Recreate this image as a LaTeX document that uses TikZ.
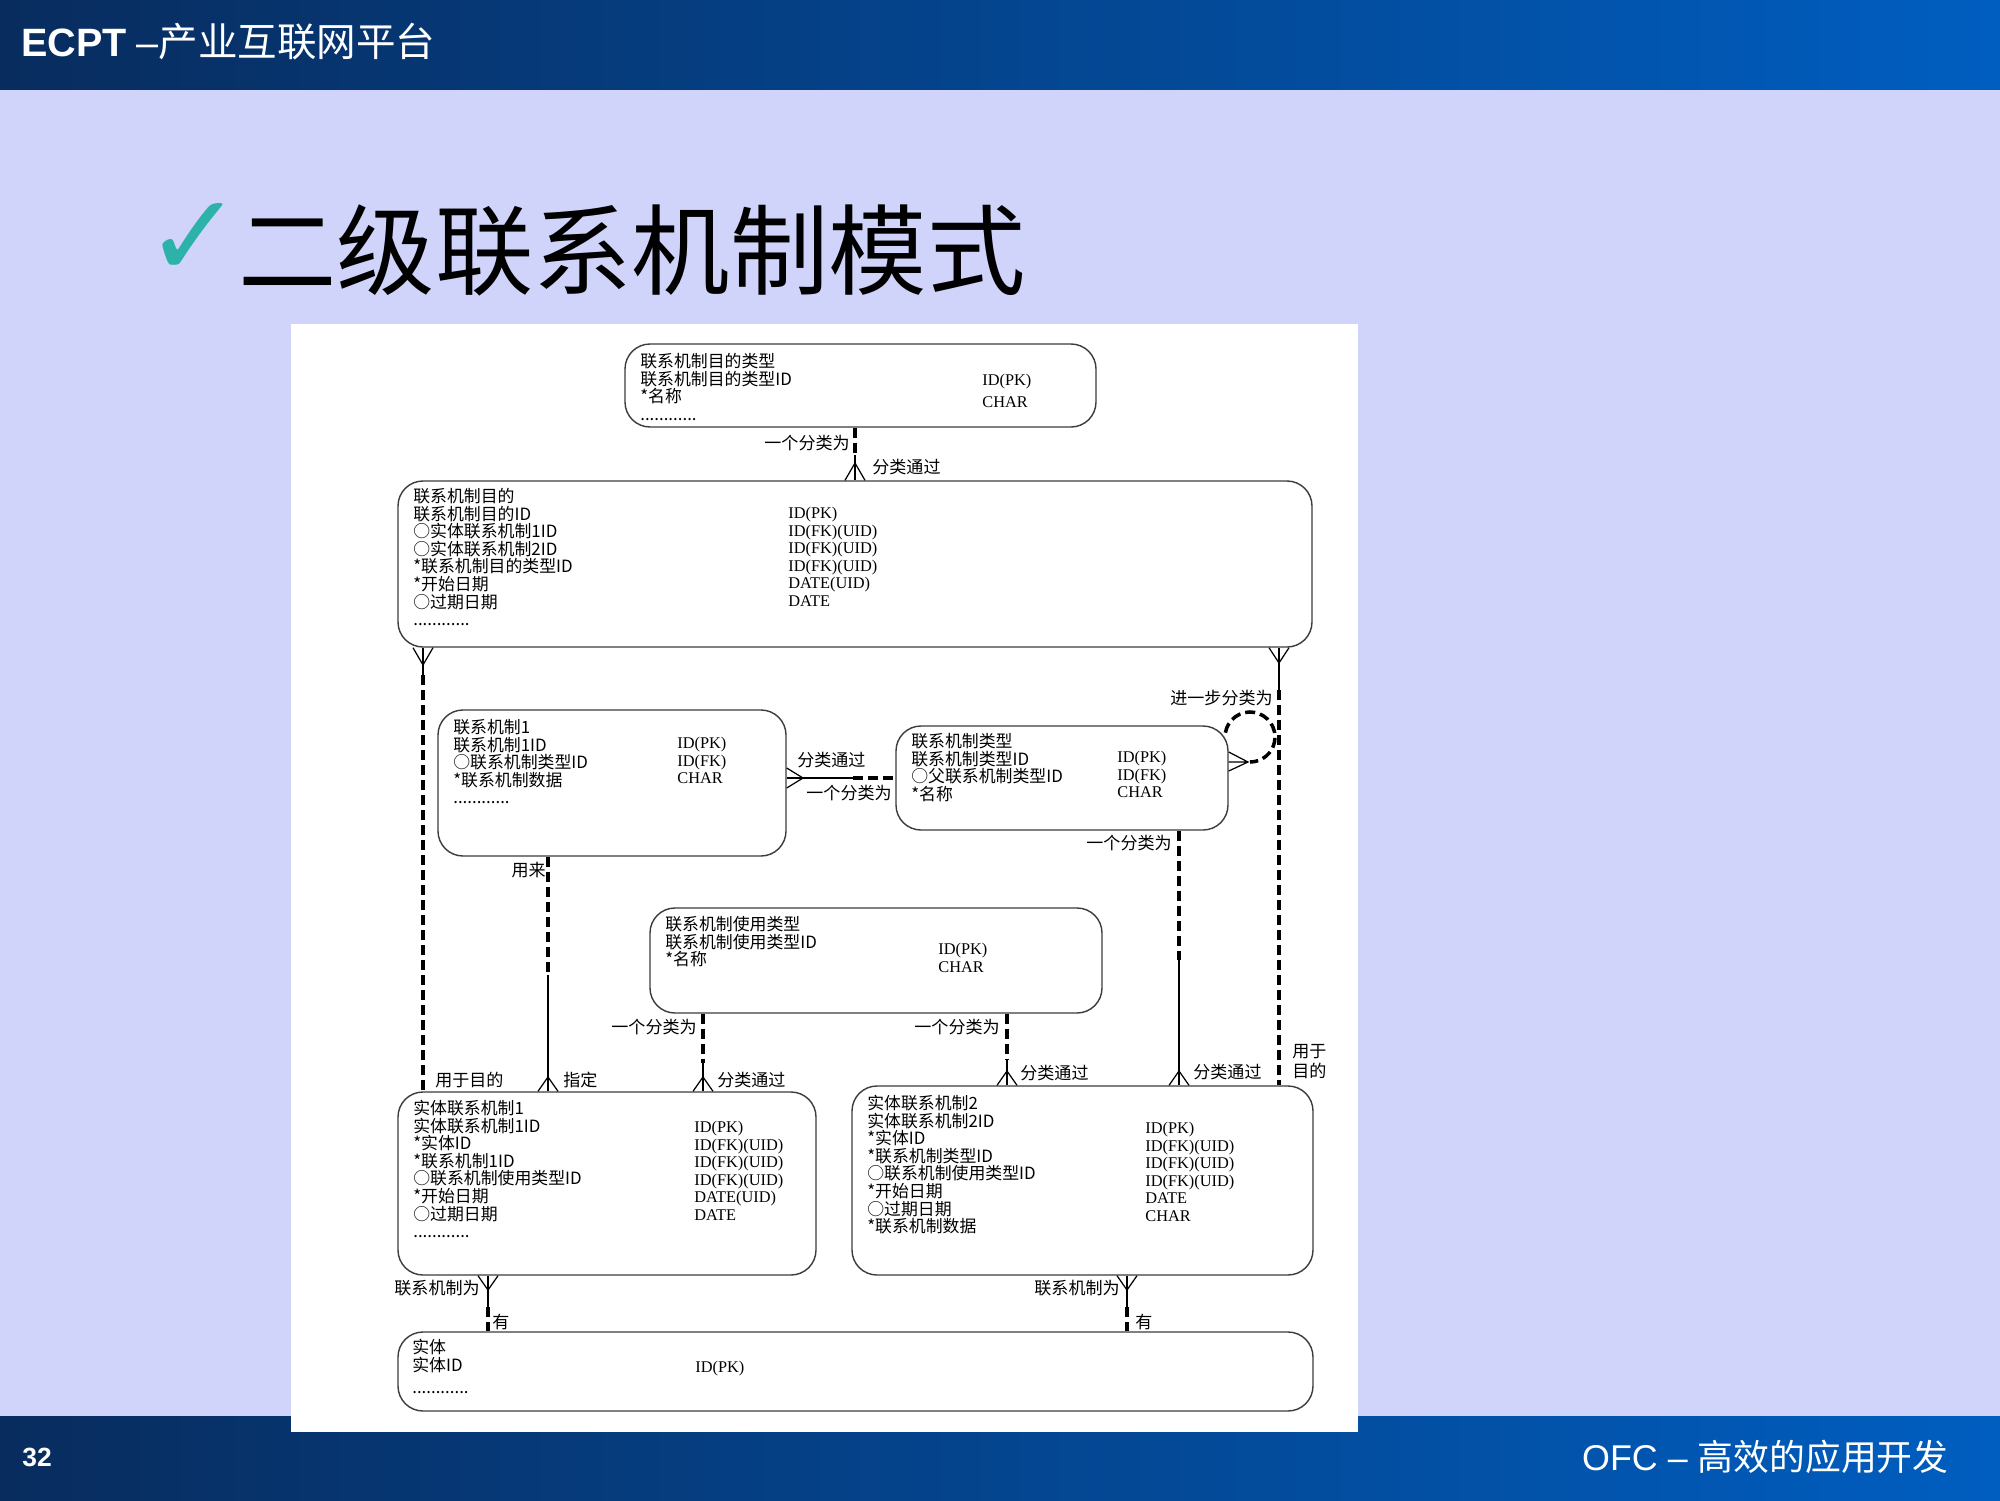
\documentclass[tikz,border=0pt]{standalone}
\usepackage{fontspec}
\setmainfont{Liberation Serif}
\newfontfamily\cjk{Noto Sans CJK SC}
\newfontfamily\arial{Liberation Sans}
\newfontfamily\symf{DejaVu Sans}
\usetikzlibrary{fit}

\definecolor{slidebg}{RGB}{208,212,250}
\definecolor{barL}{RGB}{8,44,94}
\definecolor{barR}{RGB}{0,94,192}
\definecolor{tick}{RGB}{44,178,168}
\definecolor{boxline}{RGB}{60,60,60}

\tikzset{
  erbox/.style={draw=boxline, fill=white, rounded corners=5mm, line width=0.8pt, inner sep=0pt},
  must/.style={line width=0.7pt},
  opt/.style={line width=2pt, dash pattern=on 2mm off 1mm},
  lcol/.style={inner sep=0pt, anchor=north west, align=left, font=\fontsize{9.6}{10}\selectfont\cjk},
  rcol/.style={inner sep=0pt, anchor=north west, align=left, font=\fontsize{9.3}{10}\selectfont},
  lbl/.style={inner sep=0pt, font=\fontsize{9.7}{10}\selectfont\cjk},
}

\begin{document}
\begin{tikzpicture}[x=0.2mm, y=-0.2mm]
\useasboundingbox (0,0) rectangle (2000,1500);
% slide
\fill[slidebg] (0,0) rectangle (2000,1500);
\shade[left color=barL, right color=barR] (0,0) rectangle (2000,89);
\shade[left color=barL, right color=barR] (0,1416) rectangle (2000,1500);
\fill[white] (291,324) rectangle (1358,1432);
\node[anchor=west, inner sep=0pt, text=white, font=\fontsize{22.5}{22.5}\selectfont] (hdr) at (21,42)
  {{\arial\bfseries ECPT} {\arial –}\cjk 产业互联网平台};
\node[inner sep=0pt, text=tick, font=\fontsize{66}{66}\selectfont\symf] (tk) at (194,240) {✓};
\node[anchor=west, inner sep=0pt, font=\fontsize{56}{56}\selectfont\cjk] (ttl) at (238,250) {二级联系机制模式};
\node[anchor=west, inner sep=0pt, text=white, font=\fontsize{15}{15}\selectfont\arial\bfseries] (pg) at (22,1457) {32};
\node[anchor=east, inner sep=0pt, text=white, font=\fontsize{20.4}{20.4}\selectfont] (ftr) at (1949,1457)
  {{\arial OFC – }\cjk 高效的应用开发};

% entities
\node[erbox, fit={(625,344) (1096,427)}] (mdtype) {};
\node[erbox, fit={(398,481) (1312,647)}] (md) {};
\node[erbox, fit={(438,710) (786,856)}] (m1) {};
\node[erbox, fit={(896,726) (1228,830)}] (mt) {};
\node[erbox, fit={(650,908) (1102,1013)}] (mu) {};
\node[erbox, fit={(398,1092) (816,1275)}] (e1) {};
\node[erbox, fit={(852,1086) (1313,1275)}] (e2) {};
\node[erbox, fit={(398,1332) (1313,1411)}] (ent) {};

\node[lcol] at (640,353) {联系机制目的类型\\联系机制目的类型ID\\*名称\\............};
\node[rcol, font=\fontsize{9.3}{12.5}\selectfont] at (982,374) {ID(PK)\\CHAR};
\node[lcol] at (413,488) {联系机制目的\\联系机制目的ID\\○实体联系机制1ID\\○实体联系机制2ID\\*联系机制目的类型ID\\*开始日期\\○过期日期\\............};
\node[rcol] at (788,507) {ID(PK)\\ID(FK)(UID)\\ID(FK)(UID)\\ID(FK)(UID)\\DATE(UID)\\DATE};
\node[lcol] at (453,719) {联系机制1\\联系机制1ID\\○联系机制类型ID\\*联系机制数据\\............};
\node[rcol] at (677,737) {ID(PK)\\ID(FK)\\CHAR};
\node[lcol] at (911,733) {联系机制类型\\联系机制类型ID\\○父联系机制类型ID\\*名称};
\node[rcol] at (1117,751) {ID(PK)\\ID(FK)\\CHAR};
\node[lcol] at (665,916) {联系机制使用类型\\联系机制使用类型ID\\*名称};
\node[rcol] at (938,943) {ID(PK)\\CHAR};
\node[lcol] at (413,1100) {实体联系机制1\\实体联系机制1ID\\*实体ID\\*联系机制1ID\\○联系机制使用类型ID\\*开始日期\\○过期日期\\............};
\node[rcol] at (694,1121) {ID(PK)\\ID(FK)(UID)\\ID(FK)(UID)\\ID(FK)(UID)\\DATE(UID)\\DATE};
\node[lcol] at (867,1095) {实体联系机制2\\实体联系机制2ID\\*实体ID\\*联系机制类型ID\\○联系机制使用类型ID\\*开始日期\\○过期日期\\*联系机制数据};
\node[rcol] at (1145,1122) {ID(PK)\\ID(FK)(UID)\\ID(FK)(UID)\\ID(FK)(UID)\\DATE\\CHAR};
\node[lcol] at (412,1339) {实体\\实体ID\\[1mm]............};
\node[rcol] at (695,1361) {ID(PK)};

% relationships
\draw[opt] (855,0 |- mdtype.south) -- (855,455);
\draw[must] (855,455) -- (855,0 |- md.north);
\draw[must] (423,0 |- md.south) -- (423,675);
\draw[opt] (423,675) -- (423,0 |- e1.north);
\draw[must] (1279,0 |- md.south) -- (1279,690);
\draw[opt] (1279,690) -- (1279,0 |- e2.north);
\draw[must] (m1.east |- 0,778) -- (853,778);
\draw[opt] (853,778) -- (mt.west |- 0,778);
\draw[opt] (548,0 |- m1.south) -- (548,975);
\draw[must] (548,975) -- (548,0 |- e1.north);
\draw[opt] (703,0 |- mu.south) -- (703,1063);
\draw[must] (703,1063) -- (703,0 |- e1.north);
\draw[opt] (1007,0 |- mu.south) -- (1007,1060);
\draw[must] (1007,1060) -- (1007,0 |- e2.north);
\draw[opt] (1179,0 |- mt.south) -- (1179,960);
\draw[must] (1179,960) -- (1179,0 |- e2.north);
\draw[must] (488,0 |- e1.south) -- (488,1307);
\draw[opt] (488,1307) -- (488,0 |- ent.north);
\draw[must] (1127,0 |- e2.south) -- (1127,1307);
\draw[opt] (1127,1307) -- (1127,0 |- ent.north);
% pig's ear on 联系机制类型
\draw[opt] (1250,737) ++(190:25) arc[start angle=190, end angle=450, radius=25];

% crow's feet
\foreach \x/\y/\n in {855/463/md, 548/1077/e1, 703/1077/e1, 1007/1071/e2, 1179/1071/e2}
  \draw[must] ({\x-10},0 |- \n.north) -- (\x,\y) -- ({\x+10},0 |- \n.north);
\foreach \x/\y/\n in {423/665/md, 1279/663/md, 488/1290/e1, 1127/1290/e2}
  \draw[must] ({\x-10},0 |- \n.south) -- (\x,\y) -- ({\x+10},0 |- \n.south);
\draw[must] (m1.east |- 0,768) -- (803,778) -- (m1.east |- 0,788);
\draw[must] (mt.east |- 0,752) -- (1248,762) -- (mt.east |- 0,771)
  (mt.east |- 0,762) -- (1248,762);

% labels
\node[lbl, anchor=east] (l1) at (850,443) {一个分类为};
\node[lbl, anchor=west] (l2) at (872,467) {分类通过};
\node[lbl, anchor=west] (l3) at (435,1080) {用于目的};
\node[lbl, anchor=west, align=left, font=\fontsize{9.7}{11.4}\selectfont\cjk] (l4) at (1292,1062) {用于\\目的};
\node[lbl, anchor=west] (l5) at (797,760) {分类通过};
\node[lbl, anchor=east] (l6) at (892,793) {一个分类为};
\node[lbl, anchor=east] (l7) at (1273,698) {进一步分类为};
\node[lbl, anchor=east] (l8) at (546,870) {用来};
\node[lbl, anchor=west] (l9) at (563,1080) {指定};
\node[lbl, anchor=east] (l10) at (697,1027) {一个分类为};
\node[lbl, anchor=west] (l11) at (717,1080) {分类通过};
\node[lbl, anchor=east] (l12) at (1000,1027) {一个分类为};
\node[lbl, anchor=west] (l13) at (1020,1073) {分类通过};
\node[lbl, anchor=east] (l14) at (1172,843) {一个分类为};
\node[lbl, anchor=west] (l15) at (1193,1072) {分类通过};
\node[lbl, anchor=east] (l16) at (480,1288) {联系机制为};
\node[lbl, anchor=west] (l17) at (492,1322) {有};
\node[lbl, anchor=east] (l18) at (1120,1288) {联系机制为};
\node[lbl, anchor=west] (l19) at (1135,1322) {有};
\end{tikzpicture}
\end{document}
